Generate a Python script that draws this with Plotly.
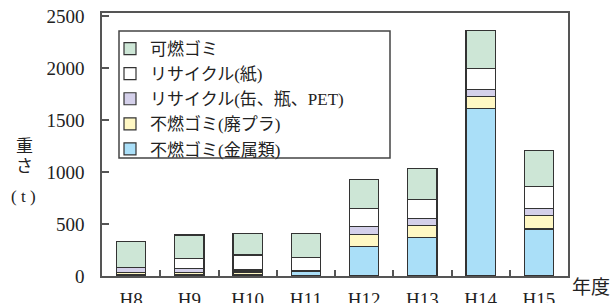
import plotly.graph_objects as go

categories = ["H8", "H9", "H10", "H11", "H12", "H13", "H14", "H15"]
metal = [16, 14, 18, 44, 280, 370, 1614, 453]
plastic = [18, 18, 20, 2, 119, 119, 113, 132]
cans = [48, 42, 20, 2, 77, 61, 70, 68]
paper = [2, 96, 144, 131, 170, 186, 200, 205]
burnable = [246, 224, 208, 231, 280, 299, 363, 351]

series = [
    ("不燃ゴミ(金属類)", metal, "#aadff8"),
    ("不燃ゴミ(廃プラ)", plastic, "#fff8c4"),
    ("リサイクル(缶、瓶、PET)", cans, "#d4d0ea"),
    ("リサイクル(紙)", paper, "#ffffff"),
    ("可燃ゴミ", burnable, "#cde6d6"),
]

FONT = "Liberation Serif, Noto Sans CJK JP, serif"

fig = go.Figure()
for name, vals, col in series:
    fig.add_trace(go.Bar(
        x=categories, y=vals, name=name,
        marker=dict(color=col, line=dict(color="#333333", width=1.2)),
        width=0.5,
    ))

W, H = 611, 303
L, R, T, B = 102, 43, 13, 27
pw, ph = W - L - R, H - T - B

def px(x):
    return (x - L) / pw

def py(y):
    return (H - B - y) / ph

def note(text, x, y, size):
    return dict(text=text, x=px(x), y=py(y), xref="paper", yref="paper",
                xanchor="center", yanchor="middle", showarrow=False,
                font=dict(family=FONT, size=size, color="#222222"))

fig.update_layout(
    width=W, height=H,
    margin=dict(l=L, r=R, t=T, b=B, autoexpand=False),
    barmode="stack",
    plot_bgcolor="white", paper_bgcolor="white",
    font=dict(family=FONT, size=19, color="#222222"),
    showlegend=True,
    legend=dict(
        x=px(110), y=py(31), xanchor="left", yanchor="top",
        traceorder="reversed",
        bgcolor="rgba(0,0,0,0)", borderwidth=0,
        font=dict(family=FONT, size=17, color="#222222"),
        itemwidth=30,
    ),
    xaxis=dict(
        type="category", automargin=False,
        showline=True, linecolor="#555555", linewidth=1.5, mirror=True,
        ticks="inside", tickson="boundaries", ticklen=6, tickcolor="#555555", tickwidth=1.5,
        ticklabelstandoff=5,
        showgrid=False,
    ),
    yaxis=dict(
        range=[0, 2530], automargin=False,
        tickvals=[0, 500, 1000, 1500, 2000, 2500],
        showline=True, linecolor="#555555", linewidth=1.5, mirror=True,
        ticks="inside", ticklen=7, tickcolor="#555555", tickwidth=1.5,
        ticklabelstandoff=12,
        showgrid=False, zeroline=False,
    ),
    shapes=[dict(
        type="rect", xref="paper", yref="paper",
        x0=px(119), x1=px(390), y0=py(158), y1=py(31),
        line=dict(color="#444444", width=1.5), fillcolor="rgba(0,0,0,0)",
    )],
    annotations=[
        note("年度", 591, 287, 19),
        note("重", 24, 146, 17),
        note("さ", 24, 166, 17),
        note("( t )", 23, 196, 17),
    ],
)

fig.write_html("out.html", config={"displayModeBar": False},
               post_script="document.body.style.margin='0px';")
